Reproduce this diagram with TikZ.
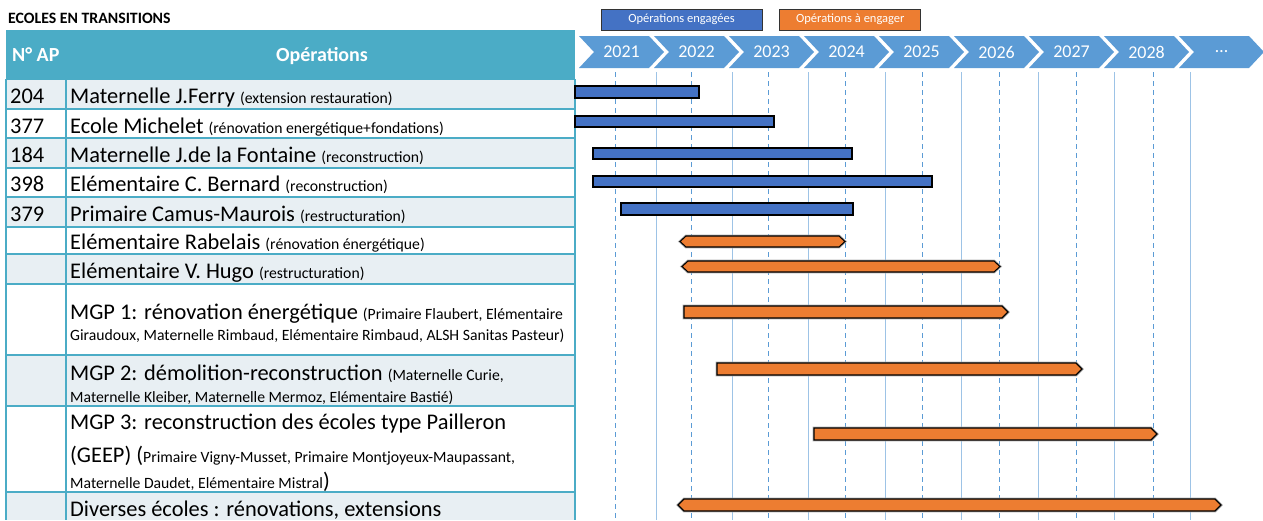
\documentclass[tikz,border=0pt]{standalone}
\usepackage{fontspec}
\setmainfont{Carlito}
\usepackage{xcolor}
\usepackage{tikz}
\usetikzlibrary{positioning}

\definecolor{tealhead}{RGB}{75,172,198}
\definecolor{rowlight}{RGB}{232,239,243}
\definecolor{chevblue}{RGB}{91,155,213}
\definecolor{barblue}{RGB}{68,114,196}
\definecolor{barorange}{RGB}{237,125,49}
\definecolor{gridline}{RGB}{157,195,230}

\newcommand{\opnote}[1]{{\fontsize{15.7}{20}\selectfont #1}}

\begin{document}
\begin{tikzpicture}[
    x=1pt, y=-1pt,
    cell/.style={anchor=base west, inner sep=0pt, font=\fontsize{22.4}{26}\selectfont},
    headtext/.style={anchor=base, inner sep=0pt, text=white, font=\fontsize{20}{24}\selectfont\bfseries},
    tablerule/.style={draw=tealhead, line width=2pt},
    yearlabel/.style={text=white, inner sep=0pt, font=\fontsize{18}{22}\selectfont},
    legendbox/.style={draw=black!80, line width=0.8pt, text=white, minimum height=21pt, inner sep=0pt, font=\fontsize{12.5}{15}\selectfont},
    ganttbar/.style={draw=black, line width=1.1pt, preaction={draw=black!30, line width=2.8pt}},
    engaged/.style={ganttbar, fill=barblue},
    planned/.style={ganttbar, fill=barorange},
    gridmajor/.style={draw=gridline, line width=1pt},
    gridminor/.style={draw=chevblue, line width=1pt, dash pattern=on 5pt off 4pt}
]
\useasboundingbox (0,0) rectangle (1263,520);
\fill[white] (0,0) rectangle (1263,520);

% Title and legend
\node[anchor=base west, inner sep=0pt, font=\fontsize{15.8}{18}\selectfont\bfseries] (title) at (8,23) {ECOLES EN TRANSITIONS};
\node[legendbox, fill=barblue, minimum width=161pt] (legdone) at (681.5,19.5) {Opérations engagées};
\node[legendbox, fill=barorange, minimum width=141pt, right=17pt of legdone] (legtodo) {Opérations à engager};

% Table header
\fill[tealhead] (6,30) rectangle (575,79);
\node[headtext, anchor=base west] (hnum) at (12,61) {N° AP};
\node[headtext] (hops) at (322,61) {Opérations};

% Table rows
\foreach \top/\bot in {79/109, 138/168, 197/227, 254/284, 355/406, 492/520}
  \fill[rowlight] (6,\top) rectangle (575,\bot);
\foreach \yy in {79,109,138,168,197,227,254,284,355,406,492}
  \draw[tablerule] (6,\yy) -- (575,\yy);
\foreach \xx in {6,66,575}
  \draw[tablerule] (\xx,79) -- (\xx,520);

\node[cell] (n204) at (10,103.5) {204};
\node[cell] (n377) at (10,133) {377};
\node[cell] (n184) at (10,162.5) {184};
\node[cell] (n398) at (10,191.5) {398};
\node[cell] (n379) at (10,221.5) {379};

\node[cell] (ferry) at (70,103.5) {Maternelle J.Ferry \opnote{(extension restauration)}};
\node[cell] (michelet) at (70,133) {Ecole Michelet \opnote{(rénovation energétique+fondations)}};
\node[cell] (fontaine) at (70,162.5) {Maternelle J.de la Fontaine \opnote{(reconstruction)}};
\node[cell] (bernard) at (70,191.5) {Elémentaire C. Bernard \opnote{(reconstruction)}};
\node[cell] (camus) at (70,221.5) {Primaire Camus-Maurois \opnote{(restructuration)}};
\node[cell] (rabelais) at (70,249) {Elémentaire Rabelais \opnote{(rénovation énergétique)}};
\node[cell] (hugo) at (70,278.5) {Elémentaire V. Hugo \opnote{(restructuration)}};
\node[cell] (mgpa) at (70,319) {MGP 1: rénovation énergétique \opnote{(Primaire Flaubert, Elémentaire}};
\node[cell] (mgpa2) at (70,340) {\opnote{Giraudoux, Maternelle Rimbaud, Elémentaire Rimbaud, ALSH Sanitas Pasteur)}};
\node[cell] (mgpb) at (70,380) {MGP 2: démolition-reconstruction \opnote{(Maternelle Curie,}};
\node[cell] (mgpb2) at (70,402) {\opnote{Maternelle Kleiber, Maternelle Mermoz, Elémentaire Bastié)}};
\node[cell] (mgpc) at (70,429) {MGP 3: reconstruction des écoles type Pailleron};
\node[cell] (mgpc2) at (70,462) {(GEEP) (\opnote{Primaire Vigny-Musset, Primaire Montjoyeux-Maupassant,}};
\node[cell] (mgpc3) at (70,488) {\opnote{Maternelle Daudet, Elémentaire Mistral})};
\node[cell] (diverses) at (70,516) {Diverses écoles : rénovations, extensions};

% Timeline
\foreach \yr [count=\i from 0] in {2021,2022,2023,2024,2025,2026,2027,2028,…} {
  \fill[chevblue] ({579+75*\i},36) -- ++(70,0) -- ++(15,16) -- ++(-15,16) -- ++(-70,0) -- ++(15,-16) -- cycle;
  \node[yearlabel] (yr\i) at ({621.5+75*\i},52) {\yr};
}
\foreach \k in {0,...,7} {
  \draw[gridmajor] ({656+76.4*\k},72) -- ({656+76.4*\k},520);
  \draw[gridminor] ({615+76.9*\k},72) -- ({615+76.9*\k},520);
}

% Operations engagees
\draw[engaged] (575,86) rectangle (699,98);
\draw[engaged] (575,116) rectangle (774,127);
\draw[engaged] (593,148) rectangle (852,159);
\draw[engaged] (593,176) rectangle (932,187);
\draw[engaged] (621,203) rectangle (853,215);

% Operations a engager
\draw[planned] (680,241.5) -- (686,236) -- (839,236) -- (845,241.5) -- (839,247) -- (686,247) -- cycle;
\draw[planned] (682,266.5) -- (688,261) -- (994,261) -- (1000,266.5) -- (994,272) -- (688,272) -- cycle;
\draw[planned] (684,306) -- (1002,306) -- (1008,312) -- (1002,318) -- (684,318) -- cycle;
\draw[planned] (717,363) -- (1076,363) -- (1082,369) -- (1076,375) -- (717,375) -- cycle;
\draw[planned] (814,428) -- (1151,428) -- (1157,434) -- (1151,440) -- (814,440) -- cycle;
\draw[planned] (678,505) -- (684,499) -- (1215,499) -- (1221,505) -- (1215,511) -- (684,511) -- cycle;

\end{tikzpicture}
\end{document}
